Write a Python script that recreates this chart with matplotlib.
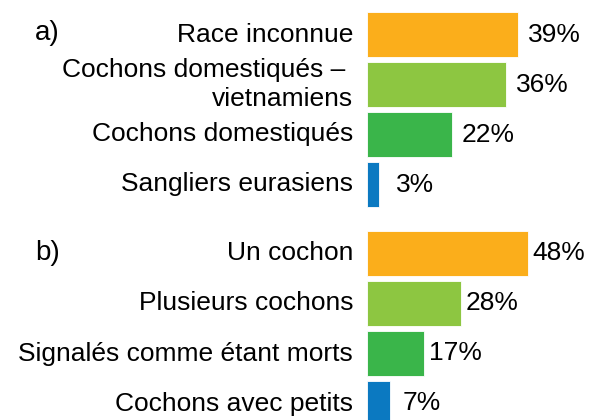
import matplotlib
matplotlib.use("Agg")
import matplotlib.pyplot as plt

plt.rcParams["font.family"] = ["Liberation Sans", "DejaVu Sans"]

# panel a) - race
labels_a = ["Race inconnue", "Cochons domestiqués – \nvietnamiens",
            "Cochons domestiqués", "Sangliers eurasiens"]
values_a = [39, 36, 22, 3]

# panel b) - nombre / etat
labels_b = ["Un cochon", "Plusieurs cochons",
            "Signalés comme étant morts", "Cochons avec petits"]
values_b = [48, 28, 17, 7]

colors = ["#FBAE1B", "#8DC641", "#3AB54A", "#0B79C1"]

W, H = 600, 420
FS = 19

fig = plt.figure(figsize=(6, 4.2), dpi=100)


def panel(top_px, labels, values, xmax, tag, label_off):
    # axes starts at the bar origin (x=367px) and covers 4 rows of 50px
    ax = fig.add_axes([367 / W, 1 - (top_px + 200) / H, (W - 367) / W, 200 / H])
    pos = range(len(values))
    ax.barh(pos, values, height=0.9, color=colors,
            edgecolor="white", linewidth=0.6)
    ax.set_xlim(0, xmax)
    ax.set_ylim(3.5, -0.5)
    ax.axis("off")
    for i, (lab, v) in enumerate(zip(labels, values)):
        ax.annotate(lab, (0, i), xytext=(-10, 0), textcoords="offset points",
                    ha="right", va="center", fontsize=FS, linespacing=1.25,
                    annotation_clip=False)
        ax.annotate(f"{v}%", (v, i), xytext=(label_off, 0),
                    textcoords="offset points", ha="center", va="center",
                    fontsize=FS, annotation_clip=False)
    fig.text(35 / W, 1 - (top_px + 24) / H, tag, fontsize=FS + 1,
             ha="left", va="center")
    return ax


panel(9.5, labels_a, values_a, 233 / 3.87, "a)", 26)
panel(228.5, labels_b, values_b, 233 / 3.35, "b)", 22.5)

fig.savefig("out.png", dpi=100, facecolor="white")
